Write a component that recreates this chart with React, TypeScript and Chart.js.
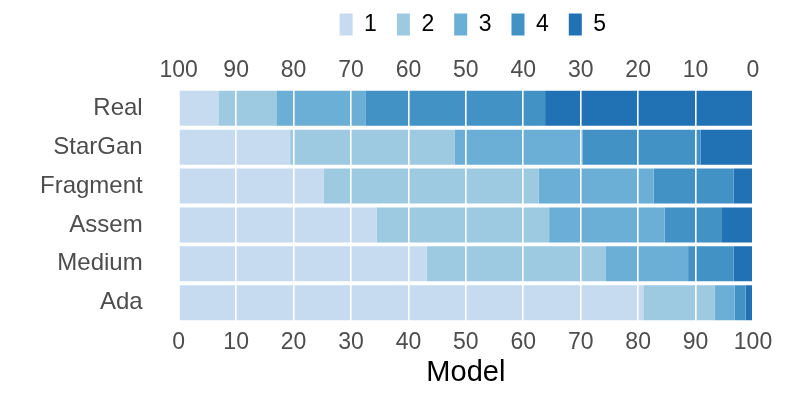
import React, { useEffect, useRef } from "react";
import { Chart, registerables } from "chart.js";

Chart.register(...registerables);

const categories = ["Real", "StarGan", "Fragment", "Assem", "Medium", "Ada"];
const seriesLabels = ["1", "2", "3", "4", "5"];
const s1 = [6.9, 19.4, 25.2, 34.5, 43.2, 80.9];
const s2 = [10.1, 28.7, 37.5, 30.0, 31.2, 12.4];
const s3 = [15.6, 22.2, 20.0, 20.1, 14.3, 3.5];
const s4 = [31.2, 20.6, 13.9, 10.0, 7.9, 1.9];
const s5 = [36.2, 9.1, 3.4, 5.4, 3.4, 1.3];
const colors = ["#c6dbef", "#9ecae1", "#6baed6", "#4292c6", "#2171b5"];
const xTitle = "Model";

const FONT = "'Liberation Sans', Arial, Helvetica, sans-serif";

const legendShift = {
  id: "legendShift",
  afterLayout(chart: any) {
    const lg = chart.legend;
    if (lg) {
      lg.left += 7;
      lg.right += 7;
    }
  },
};

export default function App() {
  const ref = useRef<HTMLCanvasElement | null>(null);
  useEffect(() => {
    if (!ref.current) return;
    const series = [s1, s2, s3, s4, s5];
    const chart = new Chart(ref.current, {
      type: "bar",
      data: {
        labels: categories,
        datasets: series.map((d, i) => ({
          label: seriesLabels[i],
          data: d,
          backgroundColor: colors[i],
          borderWidth: 0,
          barPercentage: 0.9,
          categoryPercentage: 1,
          xAxisID: "x",
        })),
      },
      plugins: [legendShift],
      options: {
        indexAxis: "y",
        animation: false,
        responsive: false,
        maintainAspectRatio: false,
        layout: { padding: { left: 4, right: 36, top: -7, bottom: 5 } },
        plugins: {
          tooltip: { enabled: false },
          legend: {
            display: true,
            position: "top",
            fullSize: false,
            labels: {
              boxWidth: 13,
              boxHeight: 22,
              padding: 20,
              color: "#000000",
              font: { family: FONT, size: 23 },
            },
          },
        },
        scales: {
          x: {
            type: "linear",
            stacked: true,
            position: "bottom",
            min: 0,
            max: 100,
            ticks: {
              stepSize: 10,
              color: "#4d4d4d",
              font: { family: FONT, size: 23 },
              padding: 6.2,
              maxRotation: 0,
            },
            grid: { color: "#ffffff", lineWidth: 1.6, drawTicks: false, z: 1 },
            border: { display: false },
            title: {
              display: true,
              text: xTitle,
              color: "#000000",
              font: { family: FONT, size: 29 },
              padding: { top: -7, bottom: 0 },
            },
          },
          x2: {
            type: "linear",
            position: "top",
            reverse: true,
            min: 0,
            max: 100,
            ticks: {
              stepSize: 10,
              color: "#4d4d4d",
              font: { family: FONT, size: 23 },
              padding: 4.6,
              maxRotation: 0,
            },
            grid: { display: false, drawTicks: false },
            border: { display: false },
            title: {
              display: true,
              text: "",
              color: "rgba(0,0,0,0)",
              font: { family: FONT, size: 6, lineHeight: 1 },
              padding: { top: 0, bottom: 0 },
            },
          },
          y: {
            type: "category",
            stacked: true,
            ticks: {
              color: "#4d4d4d",
              font: { family: FONT, size: 24 },
              padding: 36,
            },
            grid: { display: false, drawTicks: false },
            border: { display: false },
          },
        },
      },
    });
    return () => chart.destroy();
  }, []);
  return (
    <div style={{ position: "absolute", left: 0, top: 0, width: 789, height: 395 }}>
      <canvas ref={ref} width={789} height={395} style={{ width: 789, height: 395 }} />
    </div>
  );
}
